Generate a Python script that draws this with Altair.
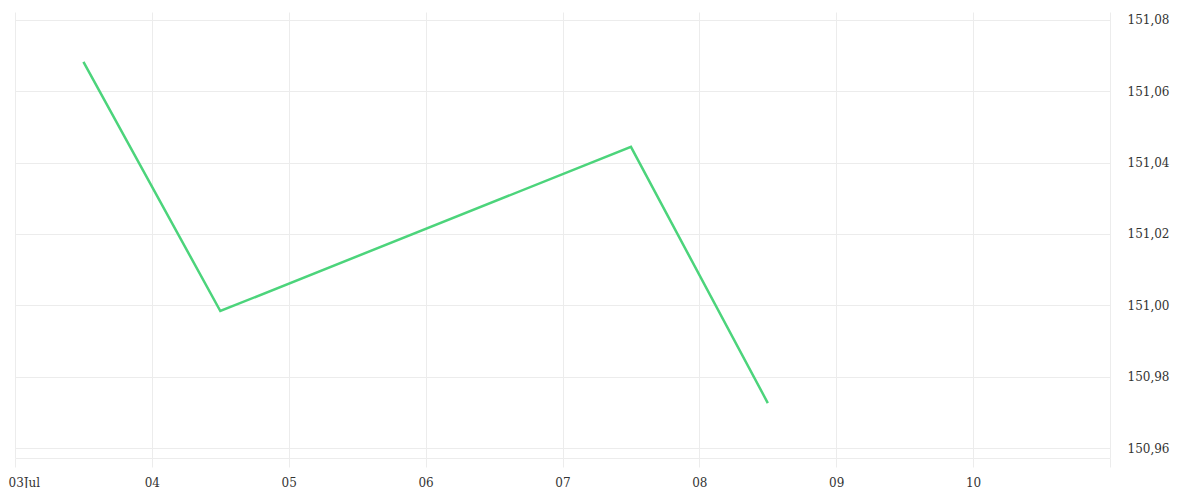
import altair as alt
import pandas as pd

dates = ["2025-07-03T12:00:00Z", "2025-07-04T12:00:00Z", "2025-07-07T12:00:00Z", "2025-07-08T12:00:00Z"]
values = [151.0682, 150.9984, 151.0444, 150.9726]
tick_days = ["2025-07-03", "2025-07-04", "2025-07-05", "2025-07-06", "2025-07-07",
             "2025-07-08", "2025-07-09", "2025-07-10", "2025-07-11"]
y_ticks = [150.96, 150.98, 151.00, 151.02, 151.04, 151.06, 151.08]

df = pd.DataFrame({"date": dates, "value": values})

tick_ms = [int(pd.Timestamp(d + "T00:00:00Z").value // 10**6) for d in tick_days]
first_ms = tick_ms[0]
last_ms = tick_ms[-1]

FONT = "DejaVu Serif"
GRID = "#ececec"

chart = alt.Chart(df).mark_line(color="#4cd47b", strokeWidth=2.5).encode(
    x=alt.X(
        "date:T",
        scale=alt.Scale(type="utc", domain=[first_ms, last_ms]),
        axis=alt.Axis(
            title=None,
            values=tick_ms,
            labelExpr=f"toNumber(datum.value) == {first_ms} ? '03Jul' : (toNumber(datum.value) == {last_ms} ? '' : utcFormat(datum.value, '%d'))",
            labelFlush=True,
            labelFlushOffset=7,
            grid=True,
            gridColor=GRID,
            domainColor=GRID,
            tickColor=GRID,
            tickSize=9,
            labelPadding=10,
            labelFont=FONT,
            labelFontSize=12,
            labelColor="#333333",
        ),
    ),
    y=alt.Y(
        "value:Q",
        scale=alt.Scale(domain=[150.9572, 151.0822], nice=False, zero=False),
        axis=alt.Axis(
            title=None,
            orient="right",
            values=y_ticks,
            labelExpr="replace(format(datum.value, '.2f'), '.', ',')",
            ticks=False,
            domain=False,
            grid=True,
            gridColor=GRID,
            labelPadding=17,
            labelFont=FONT,
            labelFontSize=12,
            labelColor="#333333",
        ),
    ),
).properties(
    width=1095,
    height=446,
    autosize=alt.AutoSizeParams(type="none"),
    padding={"left": 7, "top": 4, "right": 80, "bottom": 30},
).configure_view(stroke=None)

chart.save("out.html", embed_options={"renderer": "svg", "actions": False})
